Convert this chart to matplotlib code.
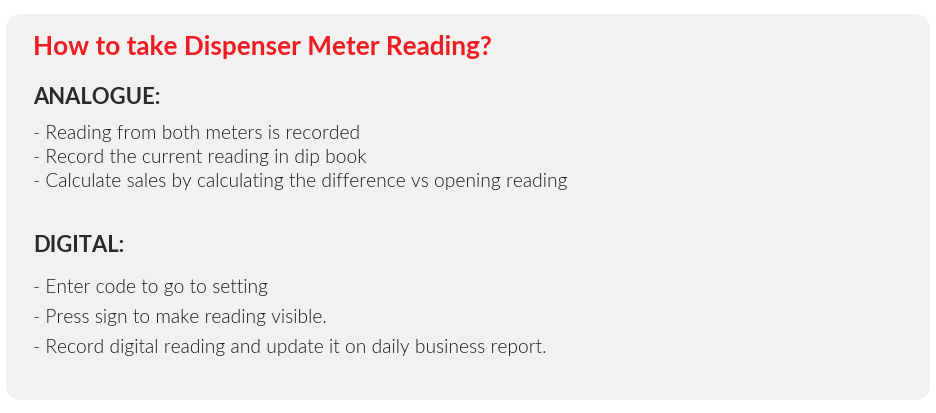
import matplotlib
matplotlib.use("Agg")
import matplotlib.pyplot as plt
from matplotlib.patches import FancyBboxPatch

W, H = 937, 413

title = "How to take Dispenser Meter Reading?"
section_names = ["ANALOGUE:", "DIGITAL:"]
analogue_steps = [
    "Reading from both meters is recorded",
    "Record the current reading in dip book",
    "Calculate sales by calculating the difference vs opening reading",
]
digital_steps = [
    "Enter code to go to setting",
    "Press sign to make reading visible.",
    "Record digital reading and update it on daily business report.",
]

RED = "#f01c24"
DARK = "#2a2a2a"
BODY = "#1c1c1c"
CARD = "#f2f1f0"

fig = plt.figure(figsize=(W / 100, H / 100), dpi=100)
ax = fig.add_axes([0, 0, 1, 1])
ax.set_xlim(0, W)
ax.set_ylim(H, 0)
ax.axis("off")

card = FancyBboxPatch((6, 14), 924, 386, boxstyle="round,pad=0,rounding_size=16",
                      facecolor=CARD, edgecolor="none")
ax.add_patch(card)

font = "Lato"
ax.text(33, 47, title, color=RED, fontsize=18.8, fontweight="bold",
        family=font, va="center", ha="left")

ax.text(33, 97, section_names[0], color=DARK, fontsize=15.8, fontweight="bold",
        family=font, va="center", ha="left")
for y, s in zip([133, 157, 181], analogue_steps):
    ax.text(33, y, "- " + s, color=BODY, fontsize=13.8, fontweight=300,
            family=font, va="center", ha="left")

ax.text(33, 246, section_names[1], color=DARK, fontsize=15.8, fontweight="bold",
        family=font, va="center", ha="left")
for y, s in zip([287, 317, 348], digital_steps):
    ax.text(33, y, "- " + s, color=BODY, fontsize=13.8, fontweight=300,
            family=font, va="center", ha="left")

fig.savefig("out.png", dpi=100, facecolor="white")
